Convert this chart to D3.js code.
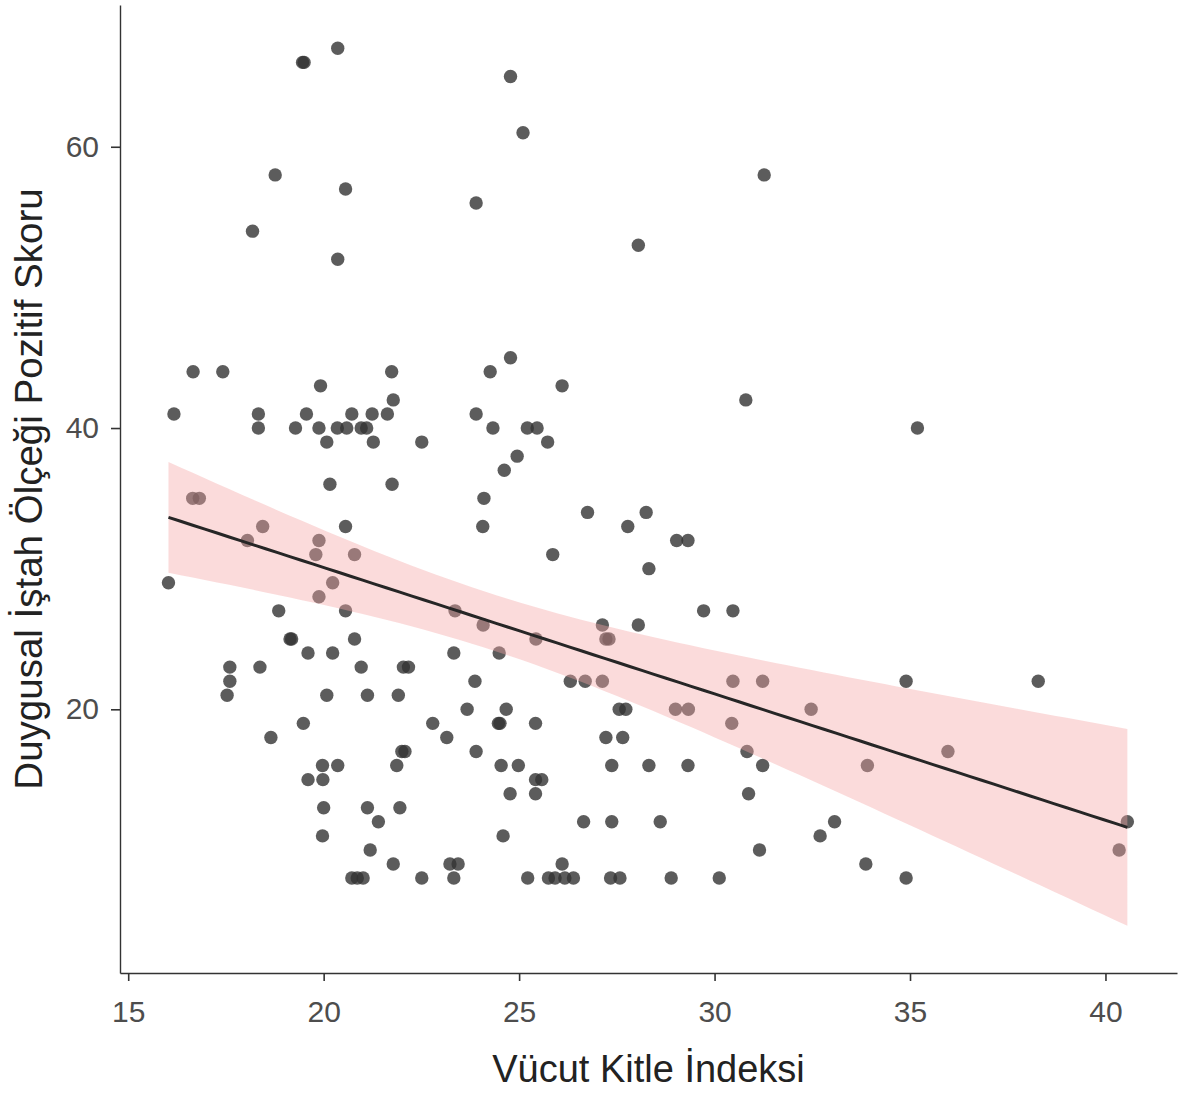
<!DOCTYPE html>
<html>
<head>
<meta charset="utf-8">
<script src="https://cdn.jsdelivr.net/npm/d3@7"></script>
<style>
  body { margin: 0; background: #fff; }
  svg { display: block; }
  text { font-family: "Liberation Sans", Arial, sans-serif; }
</style>
</head>
<body>
<div id="chart"></div>
<script>
// BMI (x) and emotional appetite positive score (y)
var bmi = [
  20.36, 19.46, 19.50, 24.78, 25.10, 18.76, 31.27, 20.56, 23.90, 18.18, 28.05, 20.36,
  24.78, 16.66, 17.42, 21.74, 24.26, 19.92, 26.10, 21.78, 30.80,
  16.17, 18.33, 19.56, 20.72, 21.24, 21.63, 23.90,
  18.33, 19.28, 19.88, 20.35, 20.59, 20.96, 21.10, 24.33, 25.21, 25.46, 35.19,
  20.08, 21.27, 22.51, 25.73, 24.95, 24.62, 20.16, 21.75, 16.65, 16.82, 24.10,
  26.75, 28.25, 18.44, 20.56, 24.07, 27.78, 18.05, 19.88, 29.03, 29.32,
  19.80, 20.79, 25.86, 28.32, 16.03, 20.23, 19.88,
  18.85, 20.56, 23.36, 29.72, 30.47, 24.08, 27.13, 28.05,
  19.14, 19.18, 20.79, 25.43, 27.22, 27.30, 19.60, 20.23, 23.33, 24.49,
  17.60, 18.37, 20.96, 22.04, 22.17,
  17.60, 23.87, 26.31, 26.69, 27.13, 30.47, 31.23, 34.90, 38.28,
  17.53, 20.08, 21.12, 21.91,
  23.67, 24.67, 27.56, 27.73, 29.00, 29.33, 32.47,
  19.48, 22.79, 24.47, 24.51, 25.42, 30.44,
  18.65, 23.15, 27.22, 27.65,
  22.00, 22.08, 23.90, 30.83, 35.97,
  19.97, 20.36, 21.87, 24.54, 24.98, 27.37, 28.32, 29.32, 31.23, 33.91,
  19.60, 19.98, 25.42, 25.58, 24.77, 25.42, 30.87, 20.00, 21.12, 21.95,
  21.40, 26.65, 27.37, 28.61, 33.07, 40.56, 19.97, 24.59, 32.70, 21.19, 31.15, 40.35,
  21.78, 23.23, 23.44, 26.10, 33.87,
  20.72, 20.86, 21.01, 22.51, 23.33, 25.22, 25.75, 25.92, 26.17, 26.39,
  27.34, 27.58, 28.89, 30.12, 34.90
];
var score = [
  67, 66, 66, 65, 61, 58, 58, 57, 56, 54, 53, 52,
  45, 44, 44, 44, 44, 43, 43, 42, 42,
  41, 41, 41, 41, 41, 41, 41,
  40, 40, 40, 40, 40, 40, 40, 40, 40, 40, 40,
  39, 39, 39, 39, 38, 37, 36, 36, 35, 35, 35,
  34, 34, 33, 33, 33, 33, 32, 32, 32, 32,
  31, 31, 31, 30, 29, 29, 28,
  27, 27, 27, 27, 27, 26, 26, 26,
  25, 25, 25, 25, 25, 25, 24, 24, 24, 24,
  23, 23, 23, 23, 23,
  22, 22, 22, 22, 22, 22, 22, 22, 22,
  21, 21, 21, 21,
  20, 20, 20, 20, 20, 20, 20,
  19, 19, 19, 19, 19, 19,
  18, 18, 18, 18,
  17, 17, 17, 17, 17,
  16, 16, 16, 16, 16, 16, 16, 16, 16, 16,
  15, 15, 15, 15, 14, 14, 14, 13, 13, 13,
  12, 12, 12, 12, 12, 12, 11, 11, 11, 10, 10, 10,
  9, 9, 9, 9, 9,
  8, 8, 8, 8, 8, 8, 8, 8, 8, 8,
  8, 8, 8, 8, 8
];
var xTicks = [15, 20, 25, 30, 35, 40];
var yTicks = [20, 40, 60];

var width = 1179, height = 1095;
var plotLeft = 120, plotRight = 1177, plotTop = 5, plotBottom = 973;

var svg = d3.select("#chart")
  .append("svg")
  .attr("width", width).attr("height", height);

var x = d3.scaleLinear().domain([14.79, 41.83]).range([plotLeft, plotRight]);
var y = d3.scaleLinear().domain([1.25, 70.08]).range([plotBottom, plotTop]);

//points
svg.append("g")
  .selectAll("circle")
  .data(bmi)
  .join("circle")
  .attr("cx", function(d) { return x(d); })
  .attr("cy", function(d, i) { return y(score[i]); })
  .attr("r", 6.7)
  .attr("fill", "#333333")
  .attr("fill-opacity", 0.8);

//linear fit with 95% band, like geom_smooth(method = "lm")
var n = bmi.length;
var mx = d3.mean(bmi), my = d3.mean(score);
var sxx = 0, sxy = 0;
for (var i = 0; i < n; i++) {
  sxx += (bmi[i] - mx) * (bmi[i] - mx);
  sxy += (bmi[i] - mx) * (score[i] - my);
}
var slope = sxy / sxx, icpt = my - slope * mx;
var sse = 0;
for (var i = 0; i < n; i++) {
  var r = score[i] - (icpt + slope * bmi[i]);
  sse += r * r;
}
var s = Math.sqrt(sse / (n - 2));
var tq = 1.9735;
var xmin = d3.min(bmi), xmax = d3.max(bmi);
var fit = d3.range(80).map(function(k) {
  var xv = xmin + (xmax - xmin) * k / 79;
  var yv = icpt + slope * xv;
  var se = s * Math.sqrt(1 / n + (xv - mx) * (xv - mx) / sxx);
  return { x: xv, y: yv, lo: yv - tq * se, hi: yv + tq * se };
});

svg.append("path")
  .datum(fit)
  .attr("d", d3.area()
    .x(function(d) { return x(d.x); })
    .y0(function(d) { return y(d.lo); })
    .y1(function(d) { return y(d.hi); }))
  .attr("fill", "#f6a6a6")
  .attr("fill-opacity", 0.4);

svg.append("path")
  .datum(fit)
  .attr("d", d3.line()
    .x(function(d) { return x(d.x); })
    .y(function(d) { return y(d.y); }))
  .attr("fill", "none")
  .attr("stroke", "#262626")
  .attr("stroke-width", 3);

//axes
var xAxis = svg.append("g")
  .attr("transform", "translate(0," + plotBottom + ")")
  .call(d3.axisBottom(x).tickValues(xTicks).tickSize(8).tickPadding(20).tickSizeOuter(0));
var yAxis = svg.append("g")
  .attr("transform", "translate(" + plotLeft + ",0)")
  .call(d3.axisLeft(y).tickValues(yTicks).tickSize(9).tickPadding(12).tickSizeOuter(0));

[xAxis, yAxis].forEach(function(g) {
  g.select(".domain").attr("stroke", "#333").attr("stroke-width", 1.4);
  g.selectAll(".tick line").attr("stroke", "#333").attr("stroke-width", 1.6);
  g.selectAll(".tick text")
    .attr("fill", "#4d4d4d")
    .style("font-size", "30px")
    .style("font-family", "'Liberation Sans', Arial, sans-serif");
});

svg.append("text")
  .attr("x", (plotLeft + plotRight) / 2).attr("y", 1082)
  .attr("text-anchor", "middle")
  .attr("fill", "#222")
  .style("font-size", "38px")
  .text("Vücut Kitle İndeksi");

svg.append("text")
  .attr("transform", "translate(42," + (plotTop + plotBottom) / 2 + ") rotate(-90)")
  .attr("text-anchor", "middle")
  .attr("fill", "#222")
  .style("font-size", "38.5px")
  .text("Duygusal İştah Ölçeği Pozitif Skoru");
</script>
</body>
</html>
